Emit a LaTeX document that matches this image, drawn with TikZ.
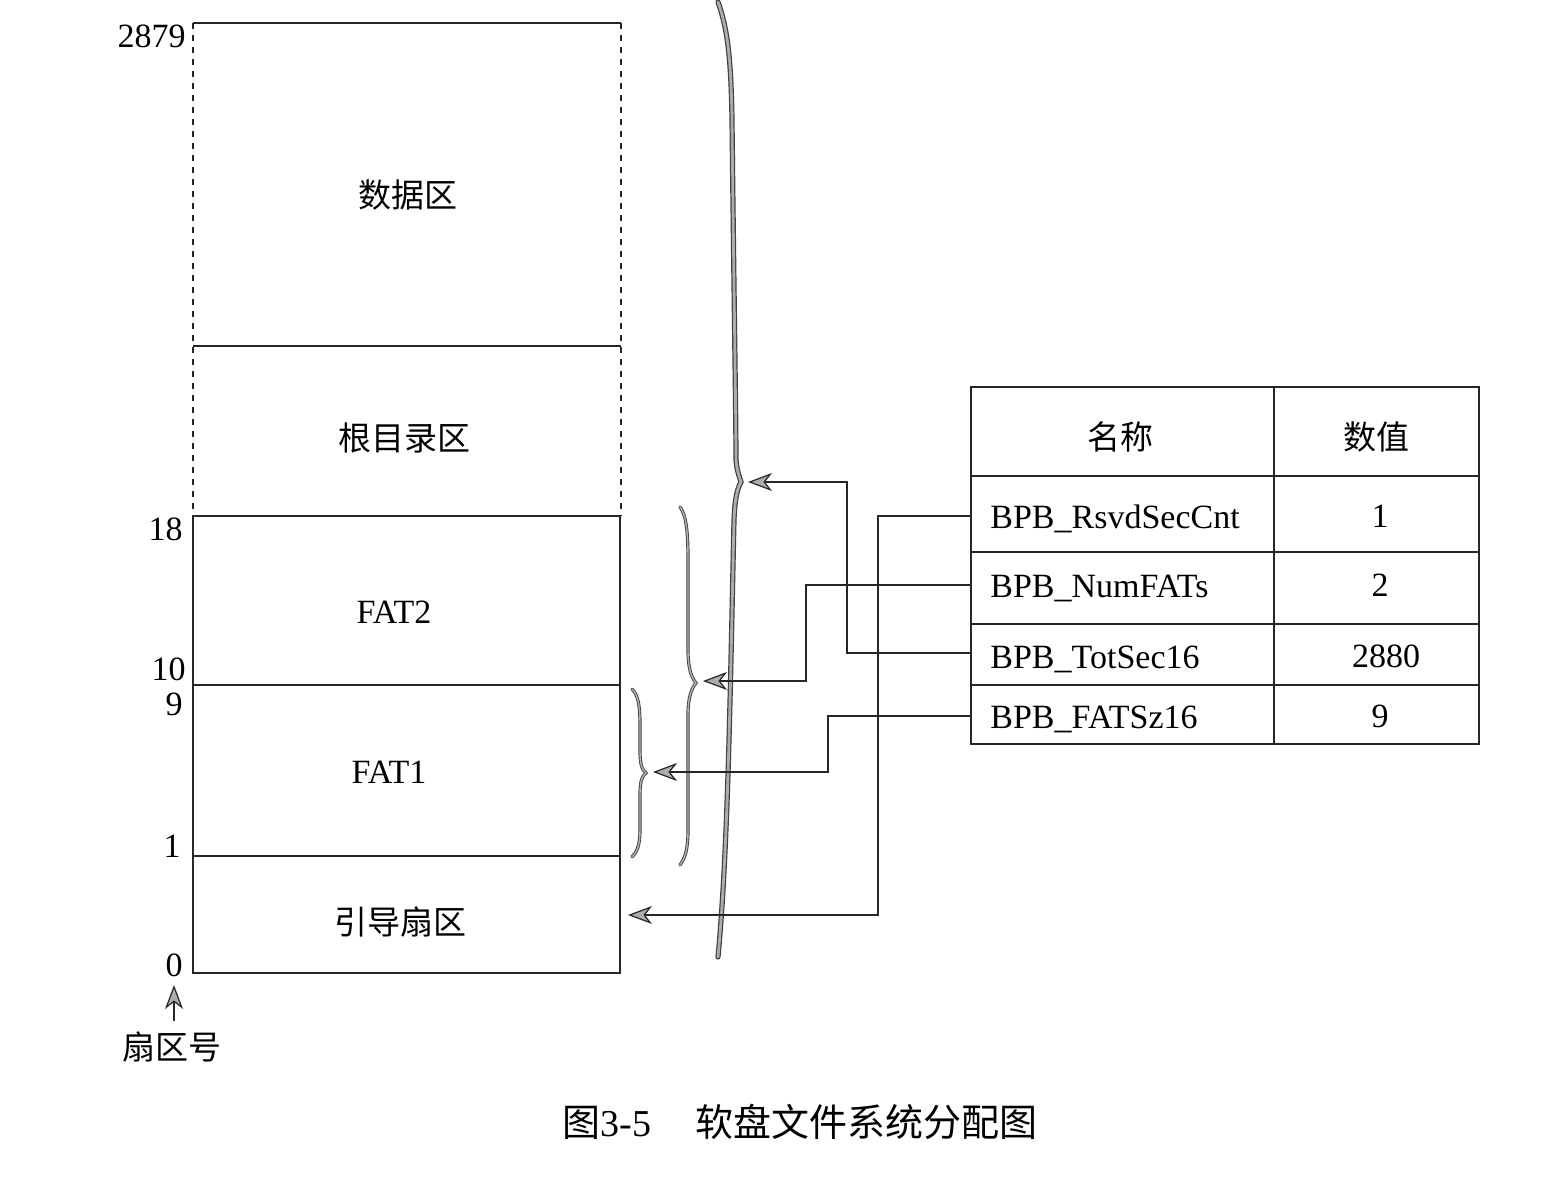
\documentclass[tikz,border=0pt]{standalone}
\usepackage{fontspec}
\setmainfont{Liberation Serif}
\newfontfamily\cjk{Noto Sans CJK SC}
\usetikzlibrary{arrows.meta}
\begin{document}
\begin{tikzpicture}[x=0.5pt,y=-0.5pt,
  ln/.style={line width=0.8pt,black!85},
  arr/.style={line width=0.8pt,black!85,-{Stealth[length=12pt,width=9pt,inset=3.5pt,color=black!85,fill=gray!65,line width=0.6pt]}},
  lbl/.style={font=\fontsize{17}{20}\selectfont,inner sep=0pt},
  zh/.style={font=\fontsize{16.5}{19}\selectfont\cjk,inner sep=0pt},
  bigbrace/.style={line width=2.6pt,black!75,line cap=round},
  bigbraceinner/.style={line width=1.4pt,gray!65,line cap=round},
  smbrace/.style={line width=1.6pt,black!75,line cap=round},
  smbraceinner/.style={line width=0.7pt,gray!60,line cap=round}]
\useasboundingbox (0,0) rectangle (1544,1188);

% left column
\draw[ln] (193,23) -- (621,23);
\draw[ln,dashed] (193,23) -- (193,516);
\draw[ln,dashed] (621,23) -- (621,516);
\draw[ln] (193,346) -- (621,346);
\draw[ln] (193,516) rectangle (620,973);
\draw[ln] (193,685) -- (620,685);
\draw[ln] (193,856) -- (620,856);

\node[zh] (data) at (408,195) {数据区};
\node[zh] (root) at (404,438) {根目录区};
\node[lbl] (fat2) at (394,612) {FAT2};
\node[lbl] (fat1) at (389,772) {FAT1};
\node[zh] (boot) at (400,922) {引导扇区};

\node[lbl,anchor=east] (n2879) at (186,36) {2879};
\node[lbl,anchor=east] (n18) at (183,529) {18};
\node[lbl,anchor=east] (n10) at (186,669) {10};
\node[lbl,anchor=east] (n9) at (183,704) {9};
\node[lbl,anchor=east] (n1) at (181,846) {1};
\node[lbl,anchor=east] (n0) at (183,965) {0};

\node[zh] (secno) at (172,1047) {扇区号};
\coordinate (sa) at (174,1021);
\coordinate (sb) at (174,985);
\draw[arr] (sa) -- (sb);

% braces
\foreach \s in {bigbrace,bigbraceinner}{
\draw[\s] (718,2) .. controls (728,30) and (731,60) .. (732,120)
      .. controls (734,300) and (736,420) .. (736,460)
      .. controls (737,472) and (740,478) .. (741,482)
      .. controls (738,488) and (735,495) .. (734,520)
      .. controls (730,700) and (728,850) .. (718,957);
}
\foreach \s in {smbrace,smbraceinner}{
\draw[\s] (680,507) .. controls (686,515) and (688,530) .. (688,560) -- (688,650)
      .. controls (688,670) and (692,678) .. (696,683)
      .. controls (692,688) and (688,696) .. (688,715) -- (688,830)
      .. controls (688,850) and (685,858) .. (680,865);
\draw[\s] (632,689) .. controls (638,695) and (640,705) .. (640,725) -- (640,750)
      .. controls (640,765) and (642,770) .. (646,773)
      .. controls (642,776) and (640,781) .. (640,795) -- (640,830)
      .. controls (640,845) and (637,852) .. (632,857);
}

% table
\draw[ln] (971,387) rectangle (1479,744);
\draw[ln] (1274,387) -- (1274,744);
\foreach \y in {476,552,624,685}{\draw[ln] (971,\y) -- (1479,\y);}
\node[zh] (hname) at (1120,437) {名称};
\node[zh] (hval) at (1376,437) {数值};
\node[lbl,anchor=west] (r1) at (990,519) {BPB\_RsvdSecCnt};
\node[lbl,anchor=west] (r2) at (990,588) {BPB\_NumFATs};
\node[lbl,anchor=west] (r3) at (990,659) {BPB\_TotSec16};
\node[lbl,anchor=west] (r4) at (990,719) {BPB\_FATSz16};
\node[lbl] (v1) at (1380,516) {1};
\node[lbl] (v2) at (1380,585) {2};
\node[lbl] (v3) at (1386,656) {2880};
\node[lbl] (v4) at (1380,716) {9};

\coordinate (s1) at (971,516);
\coordinate (s2) at (971,585);
\coordinate (s3) at (971,653);
\coordinate (s4) at (971,716);
\coordinate (t1) at (748,482);
\coordinate (t2) at (628,915);
\coordinate (t3) at (703,681);
\coordinate (t4) at (653,772);

\draw[arr] (s3) -| (847,482) -- (t1);
\draw[arr] (s1) -| (878,915) -- (t2);
\draw[arr] (s2) -| (806,681) -- (t3);
\draw[arr] (s4) -| (828,772) -- (t4);

% caption
\node[anchor=west,inner sep=0pt] (cap) at (562,1122) {\fontsize{19}{22}\selectfont{\cjk 图}3-5\hspace{22pt}{\cjk 软盘文件系统分配图}};
\end{tikzpicture}
\end{document}
